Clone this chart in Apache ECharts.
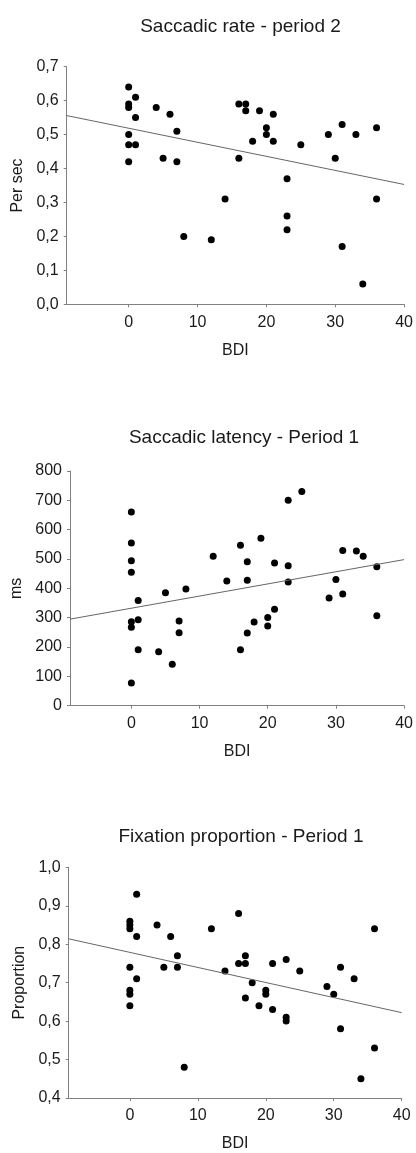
<!DOCTYPE html>
<html>
<head>
<meta charset="utf-8">
<script src="https://cdn.jsdelivr.net/npm/echarts@6/dist/echarts.min.js"></script>
<style>
html,body{margin:0;padding:0;background:#fff;}
#c{width:416px;height:1153px;}
</style>
</head>
<body>
<div id="c"></div>
<script>
// ---- Data ----
const titles = ['Saccadic rate - period 2', 'Saccadic latency - Period 1', 'Fixation proportion - Period 1'];
const yNames = ['Per sec', 'ms', 'Proportion'];
const xName = 'BDI';
const xTicks = [0, 10, 20, 30, 40];

// Chart 1: Saccadic rate - period 2
const rateBDI = [0,0,0,1,1,0,0,1,0,4,6,7,5,7,16,17,17,19,21,20,20,18,21,16,25,29,31,33,36,30,23,14,36,23,23,8,12,31,34];
const rateVal = [0.64,0.59,0.58,0.61,0.55,0.50,0.47,0.47,0.42,0.58,0.56,0.51,0.43,0.42,0.59,0.59,0.57,0.57,0.56,0.52,0.50,0.48,0.48,0.43,0.47,0.50,0.53,0.50,0.52,0.43,0.37,0.31,0.31,0.26,0.22,0.20,0.19,0.17,0.06];
const rateFitX = [-9, 40];
const rateFitY = [0.556, 0.353];

// Chart 2: Saccadic latency - Period 1
const latBDI = [0,0,23,25,12,16,19,31,33,34,0,0,1,0,0,1,1,4,6,0,5,8,7,7,14,17,17,17,18,16,20,20,21,21,23,23,29,30,31,36,36];
const latVal = [660,555,700,730,509,547,571,529,527,509,494,455,359,286,267,293,191,184,141,77,385,398,289,249,425,491,428,248,285,191,301,272,329,486,477,422,367,430,381,474,307];
const latFitX = [-9, 40];
const latFitY = [295, 498];

// Chart 3: Fixation proportion - Period 1
const fixBDI = [1,0,0,0,1,4,6,12,16,36,7,17,23,0,0,0,0,1,5,7,14,16,17,18,17,19,20,20,21,21,23,23,25,29,30,31,31,33,36,34,8];
const fixVal = [0.93,0.86,0.85,0.84,0.82,0.85,0.82,0.84,0.88,0.84,0.77,0.77,0.76,0.74,0.68,0.67,0.64,0.71,0.74,0.74,0.73,0.75,0.75,0.70,0.66,0.64,0.68,0.67,0.75,0.63,0.61,0.60,0.73,0.69,0.67,0.74,0.58,0.71,0.53,0.45,0.48];
const fixFitX = [-9, 40];
const fixFitY = [0.814, 0.622];

// ---- Build ----
const pairs = (xs, ys) => xs.map((x, i) => [x, ys[i]]);
const FONT = 'Liberation Sans, Arial, sans-serif';
const TXT = '#1a1a1a';
const AX = '#808080';

const grids = [
  {left: 66.7, top: 66.7, width: 338.6, height: 237.6},
  {left: 70, top: 471, width: 335.3, height: 234.7},
  {left: 68.7, top: 867.3, width: 333, height: 232.4}
];
const yCfg = [
  {min: 0, max: 0.7, interval: 0.1, fmt: v => v.toFixed(1).replace('.', ',')},
  {min: 0, max: 800, interval: 100, fmt: v => String(Math.round(v))},
  {min: 0.4, max: 1.0, interval: 0.1, fmt: v => v.toFixed(1).replace('.', ',')}
];
const titleY = [23.5, 434.5, 833.5];
const titleX = [235.5, 239, 236];

const option = {
  animation: false,
  backgroundColor: '#fff',
  title: titles.map((t, i) => ({
    text: t, left: titleX[i], top: titleY[i] - 11, textAlign: 'center',
    textStyle: {fontFamily: FONT, fontSize: 19, fontWeight: 'normal', color: TXT}
  })),
  grid: grids.map(g => Object.assign({containLabel: false}, g)),
  xAxis: grids.map((g, i) => ({
    gridIndex: i, type: 'value', min: -9, max: 40,
    name: xName, nameLocation: 'middle', nameGap: 38,
    nameTextStyle: {fontFamily: FONT, fontSize: 16, color: TXT},
    splitLine: {show: false},
    axisLine: {onZero: false, lineStyle: {color: AX, width: 1}},
    axisTick: {show: true, length: 3, customValues: xTicks, lineStyle: {color: AX}},
    axisLabel: {customValues: xTicks, margin: 10, fontFamily: FONT, fontSize: 16, color: TXT}
  })),
  yAxis: grids.map((g, i) => ({
    gridIndex: i, type: 'value', min: yCfg[i].min, max: yCfg[i].max, interval: yCfg[i].interval,
    name: yNames[i], nameLocation: 'middle', nameGap: 38,
    nameTextStyle: {fontFamily: FONT, fontSize: 16, color: TXT},
    splitLine: {show: false},
    axisLine: {show: true, onZero: false, lineStyle: {color: AX, width: 1}},
    axisTick: {show: true, length: 3, lineStyle: {color: AX}},
    axisLabel: {margin: 8, fontFamily: FONT, fontSize: 16, color: TXT, formatter: yCfg[i].fmt}
  })),
  series: [
    {type: 'scatter', xAxisIndex: 0, yAxisIndex: 0, data: pairs(rateBDI, rateVal), symbolSize: 7, itemStyle: {color: '#000', opacity: 1}, silent: true},
    {type: 'line', xAxisIndex: 0, yAxisIndex: 0, data: pairs(rateFitX, rateFitY), showSymbol: false, symbol: 'none', lineStyle: {color: '#666', width: 1}, silent: true},
    {type: 'scatter', xAxisIndex: 1, yAxisIndex: 1, data: pairs(latBDI, latVal), symbolSize: 7, itemStyle: {color: '#000', opacity: 1}, silent: true},
    {type: 'line', xAxisIndex: 1, yAxisIndex: 1, data: pairs(latFitX, latFitY), showSymbol: false, symbol: 'none', lineStyle: {color: '#666', width: 1}, silent: true},
    {type: 'scatter', xAxisIndex: 2, yAxisIndex: 2, data: pairs(fixBDI, fixVal), symbolSize: 7, itemStyle: {color: '#000', opacity: 1}, silent: true},
    {type: 'line', xAxisIndex: 2, yAxisIndex: 2, data: pairs(fixFitX, fixFitY), showSymbol: false, symbol: 'none', lineStyle: {color: '#666', width: 1}, silent: true}
  ]
};
const chart = echarts.init(document.getElementById('c'), null, {renderer: 'canvas'});
chart.setOption(option);
</script>
</body>
</html>
